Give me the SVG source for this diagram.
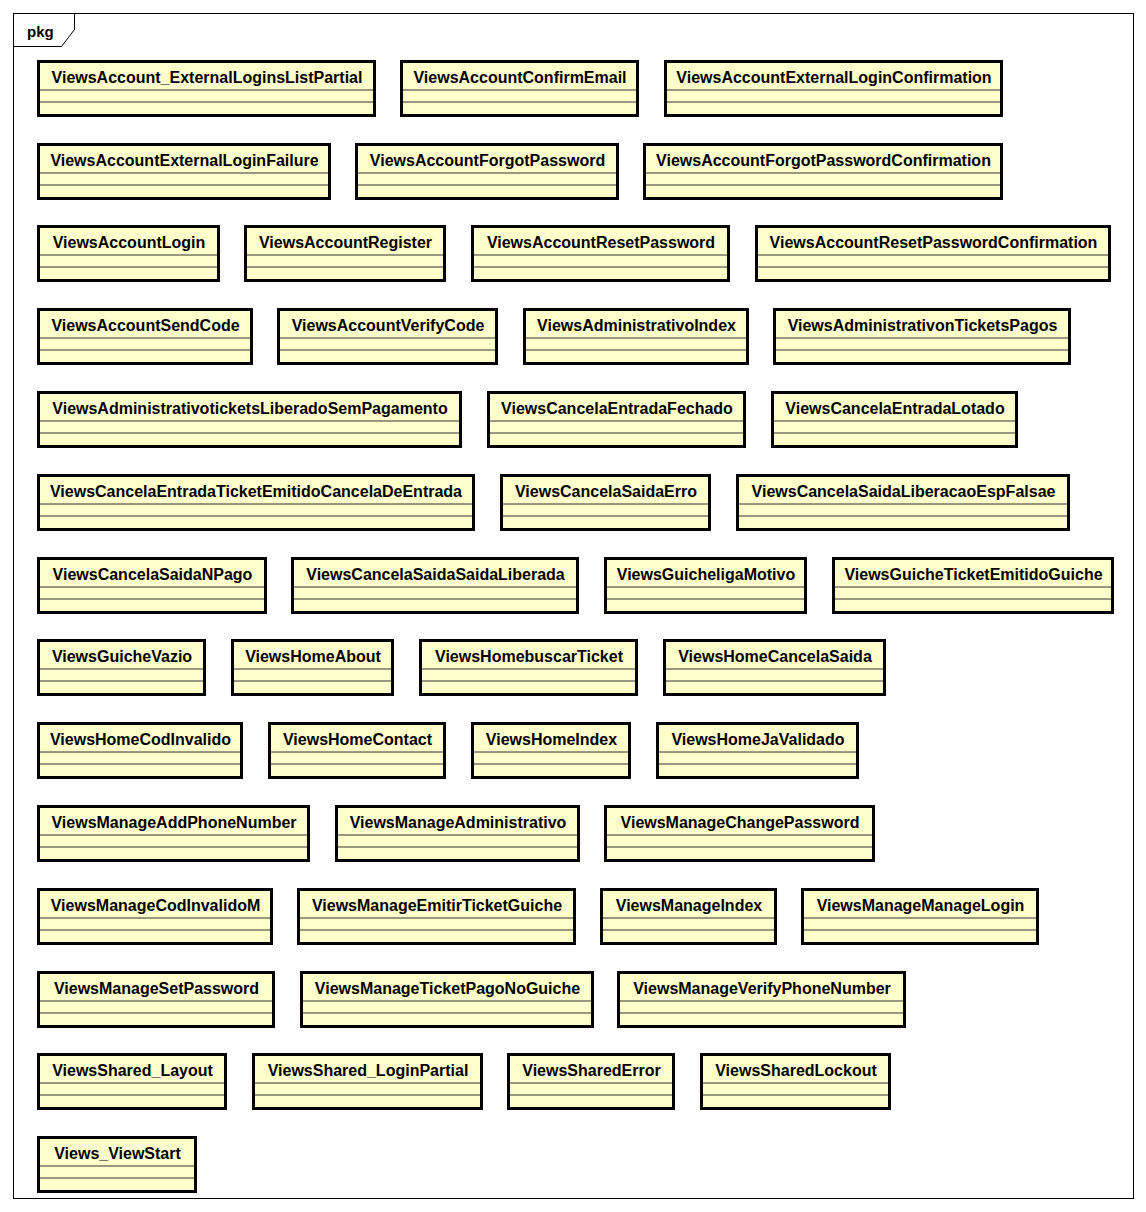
<svg xmlns="http://www.w3.org/2000/svg" width="1146" height="1212" viewBox="0 0 1146 1212">
<style>
.bg{fill:#ffffff}
.frame{fill:none;stroke:#000;stroke-width:1}
.pkg{font-family:"Liberation Sans",Arial,sans-serif;font-weight:bold;font-size:15px;fill:#000}
.box{fill:#ffffcc;stroke:#000;stroke-width:3}
.sep{stroke:#333;stroke-width:1}
.lbl{font-family:"Liberation Sans",Arial,sans-serif;font-weight:bold;font-size:16px;fill:#000;text-anchor:middle}
</style>
<rect class="bg" x="0" y="0" width="1146" height="1212"/>
<g id="frame">
<rect class="frame" x="13.5" y="13.5" width="1120" height="1185"/>
<path class="frame" d="M13.5,46.5 H61.5 L74.5,29.5 V13.5"/>
<text class="pkg" x="27" y="37">pkg</text>
</g>
<g id="connectors"></g>

<g id="n01" transform="translate(37,60)"><rect class="box" x="1.5" y="1.5" width="336" height="54"/><line class="sep" x1="3" y1="30" x2="336" y2="30"/><line class="sep" x1="3" y1="42" x2="336" y2="42"/><text class="lbl" x="170" y="23">ViewsAccount_ExternalLoginsListPartial</text></g>
<g id="n02" transform="translate(400,60)"><rect class="box" x="1.5" y="1.5" width="236" height="54"/><line class="sep" x1="3" y1="30" x2="236" y2="30"/><line class="sep" x1="3" y1="42" x2="236" y2="42"/><text class="lbl" x="120" y="23">ViewsAccountConfirmEmail</text></g>
<g id="n03" transform="translate(664,60)"><rect class="box" x="1.5" y="1.5" width="336" height="54"/><line class="sep" x1="3" y1="30" x2="336" y2="30"/><line class="sep" x1="3" y1="42" x2="336" y2="42"/><text class="lbl" x="170" y="23">ViewsAccountExternalLoginConfirmation</text></g>

<g id="n04" transform="translate(37,143)"><rect class="box" x="1.5" y="1.5" width="291" height="54"/><line class="sep" x1="3" y1="30" x2="291" y2="30"/><line class="sep" x1="3" y1="42" x2="291" y2="42"/><text class="lbl" x="147.5" y="23">ViewsAccountExternalLoginFailure</text></g>
<g id="n05" transform="translate(355,143)"><rect class="box" x="1.5" y="1.5" width="261" height="54"/><line class="sep" x1="3" y1="30" x2="261" y2="30"/><line class="sep" x1="3" y1="42" x2="261" y2="42"/><text class="lbl" x="132.5" y="23">ViewsAccountForgotPassword</text></g>
<g id="n06" transform="translate(643,143)"><rect class="box" x="1.5" y="1.5" width="357" height="54"/><line class="sep" x1="3" y1="30" x2="357" y2="30"/><line class="sep" x1="3" y1="42" x2="357" y2="42"/><text class="lbl" x="180.5" y="23">ViewsAccountForgotPasswordConfirmation</text></g>

<g id="n07" transform="translate(37,225)"><rect class="box" x="1.5" y="1.5" width="180" height="54"/><line class="sep" x1="3" y1="30" x2="180" y2="30"/><line class="sep" x1="3" y1="42" x2="180" y2="42"/><text class="lbl" x="92" y="23">ViewsAccountLogin</text></g>
<g id="n08" transform="translate(244,225)"><rect class="box" x="1.5" y="1.5" width="199" height="54"/><line class="sep" x1="3" y1="30" x2="199" y2="30"/><line class="sep" x1="3" y1="42" x2="199" y2="42"/><text class="lbl" x="101.5" y="23">ViewsAccountRegister</text></g>
<g id="n09" transform="translate(471,225)"><rect class="box" x="1.5" y="1.5" width="256" height="54"/><line class="sep" x1="3" y1="30" x2="256" y2="30"/><line class="sep" x1="3" y1="42" x2="256" y2="42"/><text class="lbl" x="130" y="23">ViewsAccountResetPassword</text></g>
<g id="n10" transform="translate(755,225)"><rect class="box" x="1.5" y="1.5" width="353" height="54"/><line class="sep" x1="3" y1="30" x2="353" y2="30"/><line class="sep" x1="3" y1="42" x2="353" y2="42"/><text class="lbl" x="178.5" y="23">ViewsAccountResetPasswordConfirmation</text></g>

<g id="n11" transform="translate(37,308)"><rect class="box" x="1.5" y="1.5" width="213" height="54"/><line class="sep" x1="3" y1="30" x2="213" y2="30"/><line class="sep" x1="3" y1="42" x2="213" y2="42"/><text class="lbl" x="108.5" y="23">ViewsAccountSendCode</text></g>
<g id="n12" transform="translate(277,308)"><rect class="box" x="1.5" y="1.5" width="218" height="54"/><line class="sep" x1="3" y1="30" x2="218" y2="30"/><line class="sep" x1="3" y1="42" x2="218" y2="42"/><text class="lbl" x="111" y="23">ViewsAccountVerifyCode</text></g>
<g id="n13" transform="translate(523,308)"><rect class="box" x="1.5" y="1.5" width="223" height="54"/><line class="sep" x1="3" y1="30" x2="223" y2="30"/><line class="sep" x1="3" y1="42" x2="223" y2="42"/><text class="lbl" x="113.5" y="23">ViewsAdministrativoIndex</text></g>
<g id="n14" transform="translate(773,308)"><rect class="box" x="1.5" y="1.5" width="295" height="54"/><line class="sep" x1="3" y1="30" x2="295" y2="30"/><line class="sep" x1="3" y1="42" x2="295" y2="42"/><text class="lbl" x="149.5" y="23">ViewsAdministrativonTicketsPagos</text></g>

<g id="n15" transform="translate(37,391)"><rect class="box" x="1.5" y="1.5" width="422" height="54"/><line class="sep" x1="3" y1="30" x2="422" y2="30"/><line class="sep" x1="3" y1="42" x2="422" y2="42"/><text class="lbl" x="213" y="23">ViewsAdministrativoticketsLiberadoSemPagamento</text></g>
<g id="n16" transform="translate(487,391)"><rect class="box" x="1.5" y="1.5" width="256" height="54"/><line class="sep" x1="3" y1="30" x2="256" y2="30"/><line class="sep" x1="3" y1="42" x2="256" y2="42"/><text class="lbl" x="130" y="23">ViewsCancelaEntradaFechado</text></g>
<g id="n17" transform="translate(771,391)"><rect class="box" x="1.5" y="1.5" width="244" height="54"/><line class="sep" x1="3" y1="30" x2="244" y2="30"/><line class="sep" x1="3" y1="42" x2="244" y2="42"/><text class="lbl" x="124" y="23">ViewsCancelaEntradaLotado</text></g>

<g id="n18" transform="translate(37,474)"><rect class="box" x="1.5" y="1.5" width="435" height="54"/><line class="sep" x1="3" y1="30" x2="435" y2="30"/><line class="sep" x1="3" y1="42" x2="435" y2="42"/><text class="lbl" x="219" y="23">ViewsCancelaEntradaTicketEmitidoCancelaDeEntrada</text></g>
<g id="n19" transform="translate(500,474)"><rect class="box" x="1.5" y="1.5" width="208" height="54"/><line class="sep" x1="3" y1="30" x2="208" y2="30"/><line class="sep" x1="3" y1="42" x2="208" y2="42"/><text class="lbl" x="106" y="23">ViewsCancelaSaidaErro</text></g>
<g id="n20" transform="translate(736,474)"><rect class="box" x="1.5" y="1.5" width="331" height="54"/><line class="sep" x1="3" y1="30" x2="331" y2="30"/><line class="sep" x1="3" y1="42" x2="331" y2="42"/><text class="lbl" x="167.5" y="23">ViewsCancelaSaidaLiberacaoEspFalsae</text></g>

<g id="n21" transform="translate(37,557)"><rect class="box" x="1.5" y="1.5" width="227" height="54"/><line class="sep" x1="3" y1="30" x2="227" y2="30"/><line class="sep" x1="3" y1="42" x2="227" y2="42"/><text class="lbl" x="115.5" y="23">ViewsCancelaSaidaNPago</text></g>
<g id="n22" transform="translate(291,557)"><rect class="box" x="1.5" y="1.5" width="285" height="54"/><line class="sep" x1="3" y1="30" x2="285" y2="30"/><line class="sep" x1="3" y1="42" x2="285" y2="42"/><text class="lbl" x="144.5" y="23">ViewsCancelaSaidaSaidaLiberada</text></g>
<g id="n23" transform="translate(604,557)"><rect class="box" x="1.5" y="1.5" width="200" height="54"/><line class="sep" x1="3" y1="30" x2="200" y2="30"/><line class="sep" x1="3" y1="42" x2="200" y2="42"/><text class="lbl" x="102" y="23">ViewsGuicheligaMotivo</text></g>
<g id="n24" transform="translate(832,557)"><rect class="box" x="1.5" y="1.5" width="279" height="54"/><line class="sep" x1="3" y1="30" x2="279" y2="30"/><line class="sep" x1="3" y1="42" x2="279" y2="42"/><text class="lbl" x="141.5" y="23">ViewsGuicheTicketEmitidoGuiche</text></g>

<g id="n25" transform="translate(37,639)"><rect class="box" x="1.5" y="1.5" width="166" height="54"/><line class="sep" x1="3" y1="30" x2="166" y2="30"/><line class="sep" x1="3" y1="42" x2="166" y2="42"/><text class="lbl" x="85" y="23">ViewsGuicheVazio</text></g>
<g id="n26" transform="translate(231,639)"><rect class="box" x="1.5" y="1.5" width="160" height="54"/><line class="sep" x1="3" y1="30" x2="160" y2="30"/><line class="sep" x1="3" y1="42" x2="160" y2="42"/><text class="lbl" x="82" y="23">ViewsHomeAbout</text></g>
<g id="n27" transform="translate(419,639)"><rect class="box" x="1.5" y="1.5" width="216" height="54"/><line class="sep" x1="3" y1="30" x2="216" y2="30"/><line class="sep" x1="3" y1="42" x2="216" y2="42"/><text class="lbl" x="110" y="23">ViewsHomebuscarTicket</text></g>
<g id="n28" transform="translate(663,639)"><rect class="box" x="1.5" y="1.5" width="220" height="54"/><line class="sep" x1="3" y1="30" x2="220" y2="30"/><line class="sep" x1="3" y1="42" x2="220" y2="42"/><text class="lbl" x="112" y="23">ViewsHomeCancelaSaida</text></g>

<g id="n29" transform="translate(37,722)"><rect class="box" x="1.5" y="1.5" width="203" height="54"/><line class="sep" x1="3" y1="30" x2="203" y2="30"/><line class="sep" x1="3" y1="42" x2="203" y2="42"/><text class="lbl" x="103.5" y="23">ViewsHomeCodInvalido</text></g>
<g id="n30" transform="translate(268,722)"><rect class="box" x="1.5" y="1.5" width="175" height="54"/><line class="sep" x1="3" y1="30" x2="175" y2="30"/><line class="sep" x1="3" y1="42" x2="175" y2="42"/><text class="lbl" x="89.5" y="23">ViewsHomeContact</text></g>
<g id="n31" transform="translate(471,722)"><rect class="box" x="1.5" y="1.5" width="157" height="54"/><line class="sep" x1="3" y1="30" x2="157" y2="30"/><line class="sep" x1="3" y1="42" x2="157" y2="42"/><text class="lbl" x="80.5" y="23">ViewsHomeIndex</text></g>
<g id="n32" transform="translate(656,722)"><rect class="box" x="1.5" y="1.5" width="200" height="54"/><line class="sep" x1="3" y1="30" x2="200" y2="30"/><line class="sep" x1="3" y1="42" x2="200" y2="42"/><text class="lbl" x="102" y="23">ViewsHomeJaValidado</text></g>

<g id="n33" transform="translate(37,805)"><rect class="box" x="1.5" y="1.5" width="270" height="54"/><line class="sep" x1="3" y1="30" x2="270" y2="30"/><line class="sep" x1="3" y1="42" x2="270" y2="42"/><text class="lbl" x="137" y="23">ViewsManageAddPhoneNumber</text></g>
<g id="n34" transform="translate(335,805)"><rect class="box" x="1.5" y="1.5" width="242" height="54"/><line class="sep" x1="3" y1="30" x2="242" y2="30"/><line class="sep" x1="3" y1="42" x2="242" y2="42"/><text class="lbl" x="123" y="23">ViewsManageAdministrativo</text></g>
<g id="n35" transform="translate(604,805)"><rect class="box" x="1.5" y="1.5" width="268" height="54"/><line class="sep" x1="3" y1="30" x2="268" y2="30"/><line class="sep" x1="3" y1="42" x2="268" y2="42"/><text class="lbl" x="136" y="23">ViewsManageChangePassword</text></g>

<g id="n36" transform="translate(37,888)"><rect class="box" x="1.5" y="1.5" width="233" height="54"/><line class="sep" x1="3" y1="30" x2="233" y2="30"/><line class="sep" x1="3" y1="42" x2="233" y2="42"/><text class="lbl" x="118.5" y="23">ViewsManageCodInvalidoM</text></g>
<g id="n37" transform="translate(297,888)"><rect class="box" x="1.5" y="1.5" width="276" height="54"/><line class="sep" x1="3" y1="30" x2="276" y2="30"/><line class="sep" x1="3" y1="42" x2="276" y2="42"/><text class="lbl" x="140" y="23">ViewsManageEmitirTicketGuiche</text></g>
<g id="n38" transform="translate(600,888)"><rect class="box" x="1.5" y="1.5" width="174" height="54"/><line class="sep" x1="3" y1="30" x2="174" y2="30"/><line class="sep" x1="3" y1="42" x2="174" y2="42"/><text class="lbl" x="89" y="23">ViewsManageIndex</text></g>
<g id="n39" transform="translate(801,888)"><rect class="box" x="1.5" y="1.5" width="235" height="54"/><line class="sep" x1="3" y1="30" x2="235" y2="30"/><line class="sep" x1="3" y1="42" x2="235" y2="42"/><text class="lbl" x="119.5" y="23">ViewsManageManageLogin</text></g>

<g id="n40" transform="translate(37,971)"><rect class="box" x="1.5" y="1.5" width="235" height="54"/><line class="sep" x1="3" y1="30" x2="235" y2="30"/><line class="sep" x1="3" y1="42" x2="235" y2="42"/><text class="lbl" x="119.5" y="23">ViewsManageSetPassword</text></g>
<g id="n41" transform="translate(300,971)"><rect class="box" x="1.5" y="1.5" width="291" height="54"/><line class="sep" x1="3" y1="30" x2="291" y2="30"/><line class="sep" x1="3" y1="42" x2="291" y2="42"/><text class="lbl" x="147.5" y="23">ViewsManageTicketPagoNoGuiche</text></g>
<g id="n42" transform="translate(617,971)"><rect class="box" x="1.5" y="1.5" width="286" height="54"/><line class="sep" x1="3" y1="30" x2="286" y2="30"/><line class="sep" x1="3" y1="42" x2="286" y2="42"/><text class="lbl" x="145" y="23">ViewsManageVerifyPhoneNumber</text></g>

<g id="n43" transform="translate(37,1053)"><rect class="box" x="1.5" y="1.5" width="187" height="54"/><line class="sep" x1="3" y1="30" x2="187" y2="30"/><line class="sep" x1="3" y1="42" x2="187" y2="42"/><text class="lbl" x="95.5" y="23">ViewsShared_Layout</text></g>
<g id="n44" transform="translate(252,1053)"><rect class="box" x="1.5" y="1.5" width="228" height="54"/><line class="sep" x1="3" y1="30" x2="228" y2="30"/><line class="sep" x1="3" y1="42" x2="228" y2="42"/><text class="lbl" x="116" y="23">ViewsShared_LoginPartial</text></g>
<g id="n45" transform="translate(507,1053)"><rect class="box" x="1.5" y="1.5" width="165" height="54"/><line class="sep" x1="3" y1="30" x2="165" y2="30"/><line class="sep" x1="3" y1="42" x2="165" y2="42"/><text class="lbl" x="84.5" y="23">ViewsSharedError</text></g>
<g id="n46" transform="translate(700,1053)"><rect class="box" x="1.5" y="1.5" width="188" height="54"/><line class="sep" x1="3" y1="30" x2="188" y2="30"/><line class="sep" x1="3" y1="42" x2="188" y2="42"/><text class="lbl" x="96" y="23">ViewsSharedLockout</text></g>

<g id="n47" transform="translate(37,1136)"><rect class="box" x="1.5" y="1.5" width="157" height="54"/><line class="sep" x1="3" y1="30" x2="157" y2="30"/><line class="sep" x1="3" y1="42" x2="157" y2="42"/><text class="lbl" x="80.5" y="23">Views_ViewStart</text></g>
</svg>
